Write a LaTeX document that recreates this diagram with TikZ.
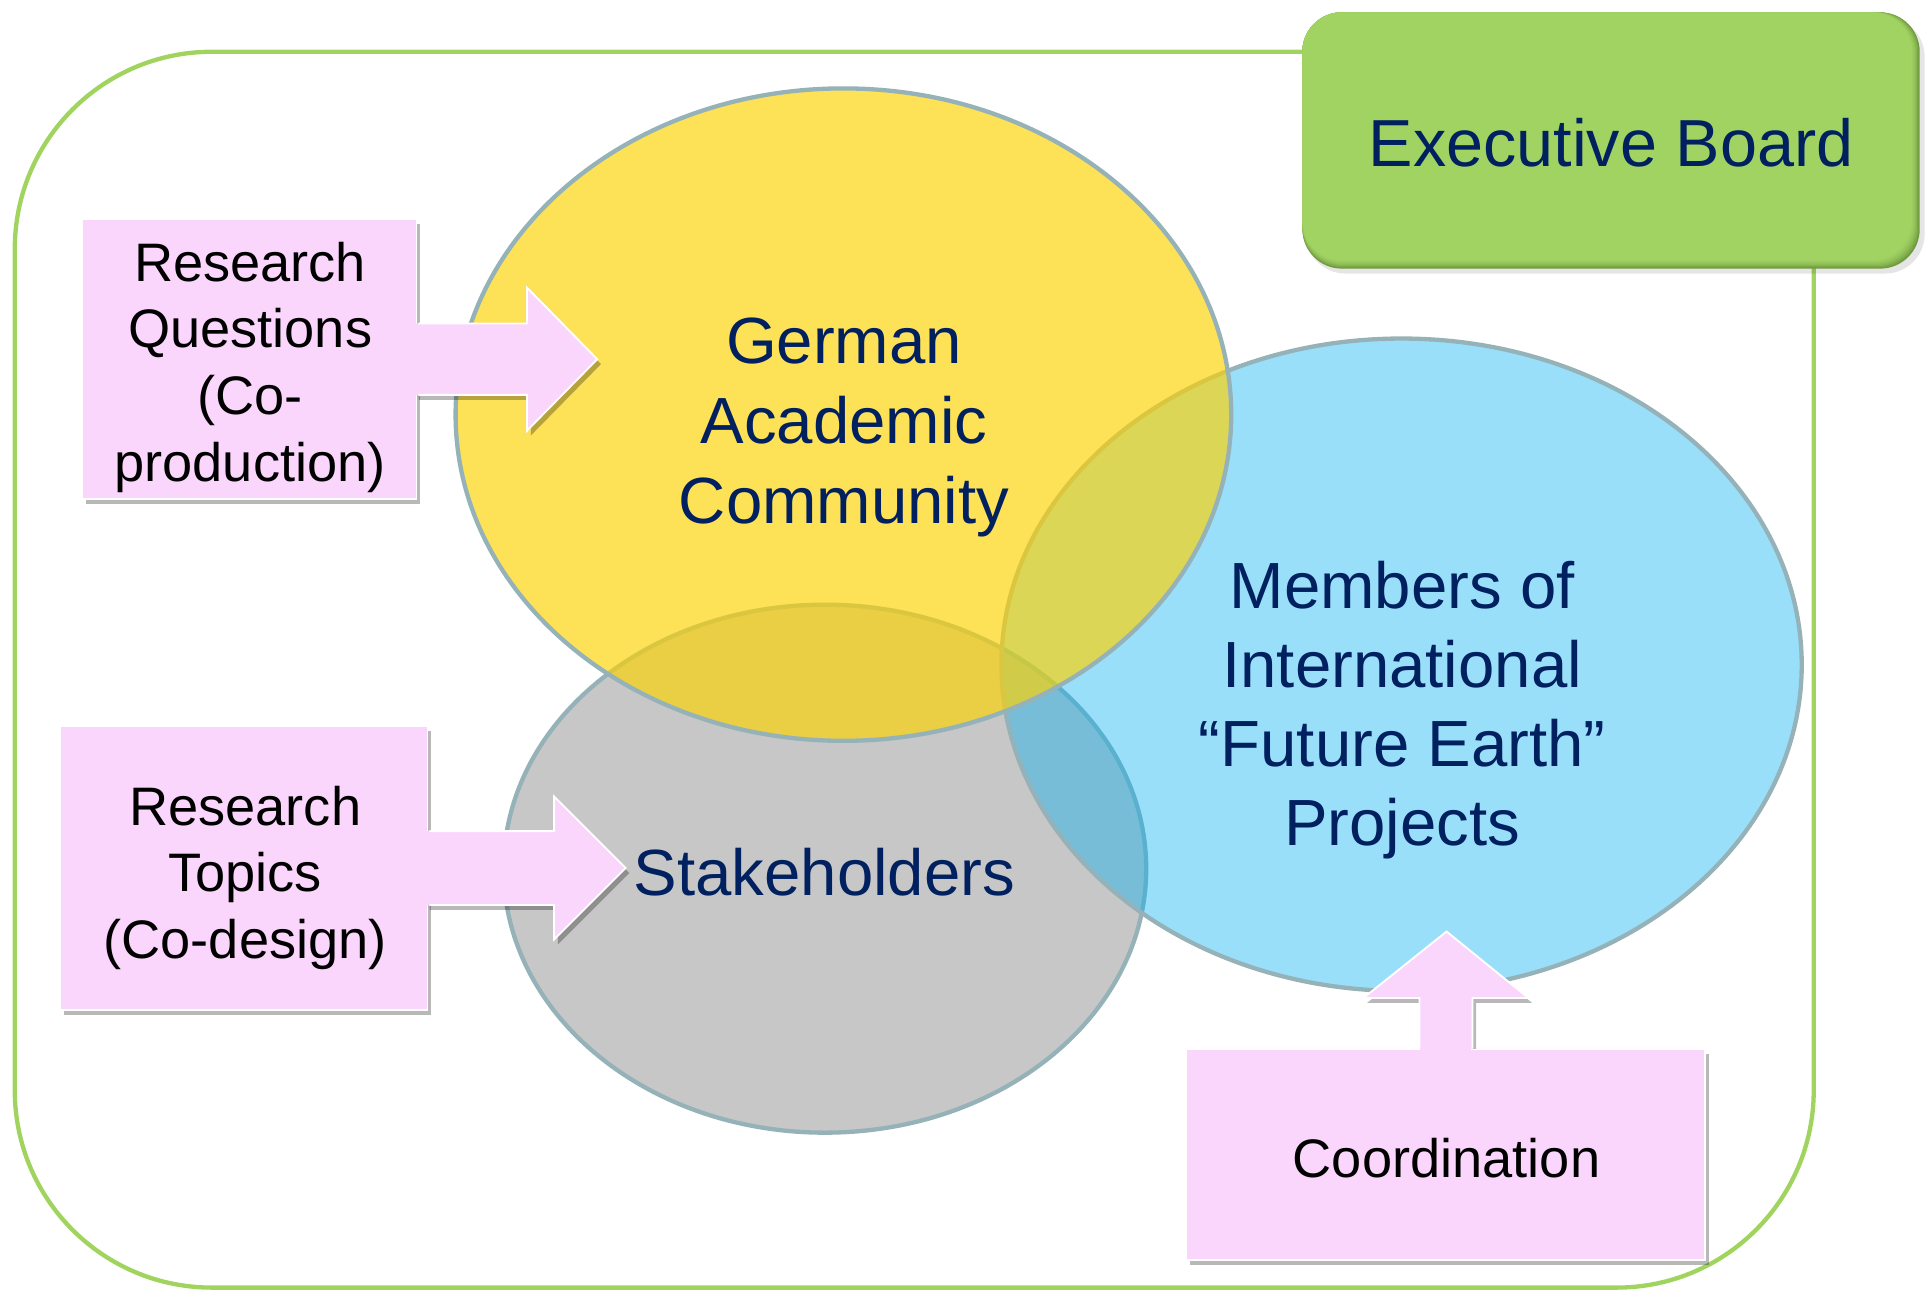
\documentclass[tikz,border=0pt]{standalone}
\usepackage{fontspec}
\setmainfont{Liberation Sans}
\usetikzlibrary{shapes.geometric,shadows,calc}
\definecolor{navy}{RGB}{0,32,96}
\definecolor{frameG}{RGB}{160,212,94}
\definecolor{boardG}{RGB}{161,211,99}
\definecolor{boardD}{RGB}{112,152,62}
\definecolor{pinkF}{RGB}{251,214,252}
\definecolor{ringC}{RGB}{150,178,185}
\definecolor{yelF}{RGB}{252,210,4}
\definecolor{bluF}{RGB}{0,176,240}
\definecolor{grayF}{RGB}{199,199,199}
\begin{document}
\begin{tikzpicture}[x=1pt,y=-1pt,
  venn/.style={ellipse, draw=ringC, line width=3.5pt, inner sep=0pt},
  pshadow/.style={drop shadow={shadow xshift=3pt, shadow yshift=-4pt, opacity=0.28, fill=black}},
  pinkbox/.style={rectangle, fill=pinkF, draw=white, line width=1.5pt, inner sep=0pt, pshadow},
  pinkarrow/.style={fill=pinkF, pshadow},
  arrowedge/.style={draw=white, line width=1.5pt, line join=miter},
  venntext/.style={text=navy, align=center, font=\fontsize{53}{65}\selectfont, inner sep=0pt},
  pinktext/.style={text=black, align=center, font=\fontsize{44}{54}\selectfont, inner sep=0pt},
]
\useasboundingbox (0,0) rectangle (1568,1047);

% outer frame
\node[draw=frameG, line width=3.5pt, rounded corners=160pt, minimum width=1460pt,
      minimum height=1003pt, inner sep=0pt] (frame) at (742,543.5) {};

% executive board
\fill[black, opacity=0.10, rounded corners=32pt] (1060,14) rectangle (1562,222);
\foreach \i/\p in {0/0,1/25,2/45,3/62,4/76,5/87,6/95,7/100}{
  \fill[boardG!\p!boardD, rounded corners=32pt] (1057,10) rectangle ({1558-\i},{218-\i});
}
\node[minimum width=501pt, minimum height=208pt, inner sep=0pt, text=navy,
      font=\fontsize{54}{65}\selectfont] (board) at (1307.5,116) {Executive Board};

% venn ellipses
\node[venn, fill=grayF, minimum width=521.5pt, minimum height=428.5pt] (stake) at (669.5,705) {};
\node[venn, fill=bluF, fill opacity=0.4, minimum width=649.5pt, minimum height=529.5pt] (fe) at (1137.5,539.5) {};
\node[venn, fill=yelF, fill opacity=0.67, minimum width=629.5pt, minimum height=529.5pt] (gac) at (684.5,336.5) {};

% pink box 1 with arrow
\node[pinkbox, minimum width=271pt, minimum height=227pt] (rq) at (202.5,291.5) {};
\coordinate (rqtip) at ($(rq.east)+(146,0)$);
\fill[pinkarrow] ($(rq.east)+(-2,-29)$) -- ($(rq.east)+(89,-29)$) -- ($(rq.east)+(89,-58)$)
   -- (rqtip) -- ($(rq.east)+(89,58)$) -- ($(rq.east)+(89,29)$) -- ($(rq.east)+(-2,29)$) -- cycle;
\draw[arrowedge] ($(rq.east)+(0.75,-29)$) -- ($(rq.east)+(89,-29)$) -- ($(rq.east)+(89,-58)$)
   -- (rqtip) -- ($(rq.east)+(89,58)$) -- ($(rq.east)+(89,29)$) -- ($(rq.east)+(0.75,29)$);

% pink box 2 with arrow
\node[pinkbox, minimum width=298pt, minimum height=231pt] (rt) at (198,704.5) {};
\coordinate (rttip) at ($(rt.east)+(160,0)$);
\fill[pinkarrow] ($(rt.east)+(-2,-30)$) -- ($(rt.east)+(102,-30)$) -- ($(rt.east)+(102,-58)$)
   -- (rttip) -- ($(rt.east)+(102,58)$) -- ($(rt.east)+(102,30)$) -- ($(rt.east)+(-2,30)$) -- cycle;
\draw[arrowedge] ($(rt.east)+(0.75,-30)$) -- ($(rt.east)+(102,-30)$) -- ($(rt.east)+(102,-58)$)
   -- (rttip) -- ($(rt.east)+(102,58)$) -- ($(rt.east)+(102,30)$) -- ($(rt.east)+(0.75,30)$);

% coordination box with up arrow
\coordinate (cotop) at (1173.5,851);
\coordinate (cotip) at ($(cotop)+(0.5,-95)$);
\fill[pinkarrow] ($(cotop)+(-21.5,2)$) -- ($(cotop)+(-21.5,-41)$) -- ($(cotop)+(-67,-41)$)
   -- (cotip) -- ($(cotop)+(67,-41)$) -- ($(cotop)+(21.5,-41)$) -- ($(cotop)+(21.5,2)$) -- cycle;
\draw[arrowedge] ($(cotop)+(-21.5,0)$) -- ($(cotop)+(-21.5,-41)$) -- ($(cotop)+(-67,-41)$)
   -- (cotip) -- ($(cotop)+(67,-41)$) -- ($(cotop)+(21.5,-41)$) -- ($(cotop)+(21.5,0)$);
\node[pinkbox, anchor=north, minimum width=421pt, minimum height=171pt] (co) at (cotop) {};
\fill[pinkF] ($(cotop)+(-20.7,-1.5)$) rectangle ($(cotop)+(20.7,1.5)$);

% texts
\node[pinktext] (rqt) at (203,298) {Research\\Questions\\(Co-\\production)};
\node[pinktext] (rtt) at (199,712.5) {Research\\Topics\\(Co-design)};
\node[pinktext] (cot) at (1174,940) {Coordination};
\node[venntext] (gact) at (685,347) {German\\Academic\\Community};
\node[venntext, font=\fontsize{53}{64}\selectfont] (fet) at (1138,576.5) {Members of\\International\\“Future Earth”\\Projects};
\node[venntext] (stt) at (669,708) {Stakeholders};
\end{tikzpicture}
\end{document}
